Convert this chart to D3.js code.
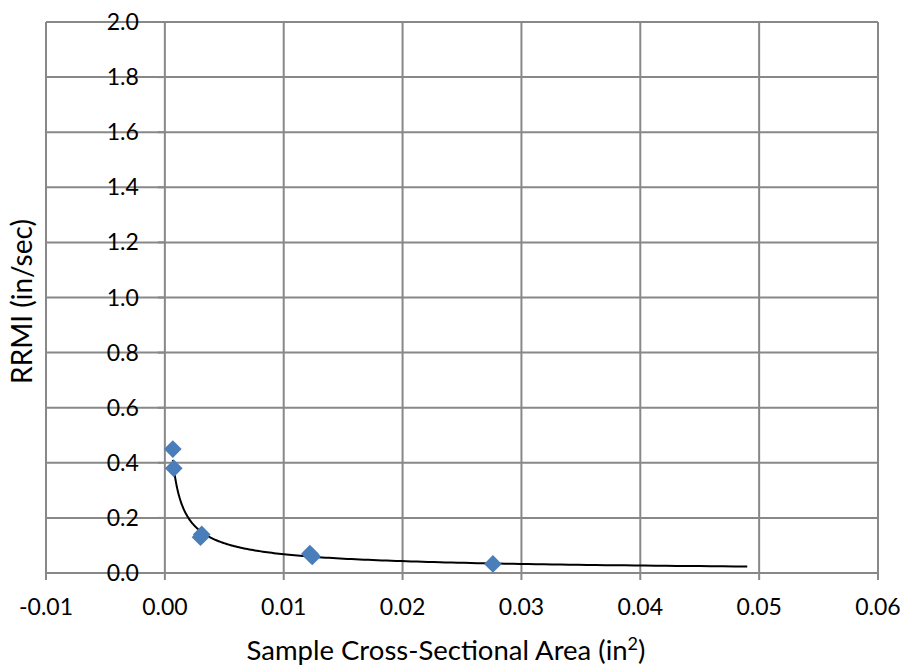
<!DOCTYPE html>
<html>
<head>
<meta charset="utf-8">
<script src="https://cdn.jsdelivr.net/npm/d3@7"></script>
<style>
  body { margin: 0; background: #fff; }
  text { font-family: Lato, "Open Sans", sans-serif; fill: #000; }
</style>
</head>
<body>
<svg id="chart" width="904" height="666"></svg>
<script>
// data
const areas = [0.00067, 0.00075, 0.0031, 0.0030, 0.0122, 0.0124, 0.0276]
const rrmi = [0.45, 0.38, 0.14, 0.13, 0.07, 0.06, 0.033]
const xTicks = [-0.01, 0, 0.01, 0.02, 0.03, 0.04, 0.05, 0.06]
const yTicks = [0, 0.2, 0.4, 0.6, 0.8, 1.0, 1.2, 1.4, 1.6, 1.8, 2.0]
const trendEnd = 0.049

const svg = d3.select('#chart')
const plotL = 46, plotR = 878, plotT = 22, plotB = 573

const x = d3.scaleLinear().domain([-0.01, 0.06]).range([plotL, plotR])
const y = d3.scaleLinear().domain([0, 2]).range([plotB, plotT])
const grid = '#888888'

// gridlines
svg.append('g').selectAll('line')
  .data(xTicks).enter().append('line')
  .attr('x1', d => x(d)).attr('x2', d => x(d))
  .attr('y1', plotT).attr('y2', plotB)
  .attr('stroke', grid).attr('stroke-width', 2)

svg.append('g').selectAll('line')
  .data(yTicks).enter().append('line')
  .attr('x1', plotL).attr('x2', plotR)
  .attr('y1', d => y(d)).attr('y2', d => y(d))
  .attr('stroke', grid).attr('stroke-width', 2)

// x axis ticks + labels
let xa = svg.append('g')
xa.selectAll('line').data(xTicks).enter().append('line')
  .attr('x1', d => x(d)).attr('x2', d => x(d))
  .attr('y1', plotB).attr('y2', plotB + 7)
  .attr('stroke', grid).attr('stroke-width', 2)
xa.selectAll('text').data(xTicks).enter().append('text')
  .attr('x', d => x(d)).attr('y', plotB + 42)
  .attr('text-anchor', 'middle')
  .style('font-size', '23px')
  .text(d => d3.format('.2f')(d).replace('\u2212', '-'))

// y axis sits at x = 0
let ya = svg.append('g')
ya.selectAll('line').data(yTicks).enter().append('line')
  .attr('x1', x(0) - 7).attr('x2', x(0))
  .attr('y1', d => y(d)).attr('y2', d => y(d))
  .attr('stroke', grid).attr('stroke-width', 2)
ya.selectAll('text').data(yTicks).enter().append('text')
  .attr('x', x(0) - 26).attr('y', d => y(d) + 8)
  .attr('text-anchor', 'end')
  .style('font-size', '23px')
  .text(d => d3.format('.1f')(d))

// power trendline, least squares in log space
let lx = areas.map(Math.log), ly = rrmi.map(Math.log)
let mx = d3.mean(lx), my = d3.mean(ly)
let b = d3.sum(lx, (v, i) => (v - mx) * (ly[i] - my)) / d3.sum(lx, v => (v - mx) * (v - mx))
let a = Math.exp(my - b * mx)
let xmin = d3.min(areas)
let trendX = d3.range(0, 201).map(i => xmin * Math.pow(trendEnd / xmin, i / 200))

svg.append('path')
  .datum(trendX)
  .attr('fill', 'none')
  .attr('stroke', '#000')
  .attr('stroke-width', 2)
  .attr('d', d3.line().x(d => x(d)).y(d => y(a * Math.pow(d, b))))

// markers
svg.append('g').selectAll('path')
  .data(areas).enter().append('path')
  .attr('transform', (d, i) => `translate(${x(d)},${y(rrmi[i])})`)
  .attr('d', d3.symbol().type(d3.symbolDiamond2).size(200))
  .attr('fill', '#4a7ebb')

// axis titles
svg.append('text')
  .attr('x', 446).attr('y', 660)
  .attr('text-anchor', 'middle')
  .style('font-size', '27.5px')
  .html('Sample Cross-Sectional Area (in<tspan dy="-10" style="font-size:18px">2</tspan><tspan dy="10">)</tspan>')

svg.append('text')
  .attr('transform', `translate(32,${(plotT + plotB) / 2 + 4}) rotate(-90)`)
  .attr('text-anchor', 'middle')
  .style('font-size', '28px')
  .text('RRMI (in/sec)')
</script>
</body>
</html>
